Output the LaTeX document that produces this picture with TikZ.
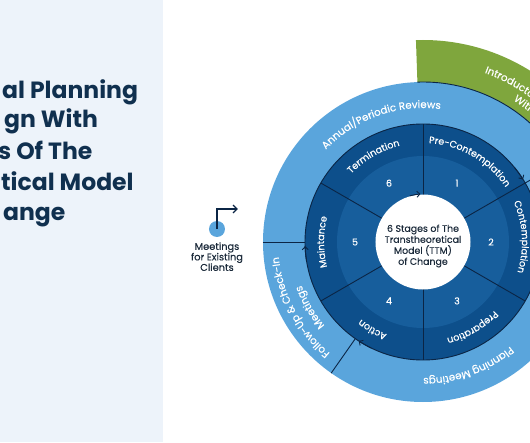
\documentclass[tikz,border=0pt]{standalone}
\usepackage{fontspec}
\setmainfont{Poppins}
\newfontfamily\medfamily{Poppins}[FakeBold=0.35]
\usetikzlibrary{positioning,arrows.meta,decorations.text}

\definecolor{panelbg}{HTML}{EDF3FA}
\definecolor{titlenavy}{HTML}{10304F}
\definecolor{linenavy}{HTML}{0B2545}
\definecolor{outerblue}{HTML}{5AA5DC}
\definecolor{stageblue}{HTML}{0D4F8B}
\definecolor{numblue}{HTML}{175E9C}
\definecolor{introgreen}{HTML}{7FA63D}
\definecolor{coretext}{HTML}{1B2A3A}

\newcommand{\headfont}{\fontsize{23.5}{27}\selectfont\bfseries}
\newcommand{\ringfont}{\medfamily\fontsize{10.3}{12}\selectfont}
\newcommand{\stagefont}{\medfamily\fontsize{9.5}{11}\selectfont}

\begin{document}
\begin{tikzpicture}[x=1pt, y=1pt,
    headline/.style={anchor=base west, inner sep=0pt, text=titlenavy, font=\headfont},
    num/.style={text=white, font=\medfamily\fontsize{9.5}{11}\selectfont},
    sep/.style={draw=linenavy, line width=0.9pt},
    arclabel/.style={decorate, decoration={text along path, text align=center, text color=white, text={#1}}},
    introlabel/.style={decorate, decoration={text along path, text align=left, text color=white, text={#1}}},
    >={Straight Barb[length=3pt, width=6pt]}
]
\clip (-423,-200) rectangle (107,242);

% left panel
\fill[panelbg] (-423,-200) rectangle (-260,242);
\node[headline] (head1) at (-421,143) {al Planning};
\node[headline] (head2) at (-419,114) {gn With};
\node[headline] (head3) at (-425,82) {s Of The};
\node[headline] (head4) at (-422,52) {tical Model};
\node[headline] (head5) at (-420,22) {ange};

% meetings for existing clients
\node[circle, fill=outerblue, minimum size=16pt, inner sep=0pt] (dot) at (-206,13) {};
\coordinate (tip) at (-185,33);
\draw[sep, line width=1.4pt, -{Straight Barb[length=4pt, width=8pt]}] (dot.center) |- (tip);
\node[below=5pt of dot, align=center, inner sep=0pt, text=coretext,
      font=\medfamily\fontsize{9.8}{10.5}\selectfont] (existing) {Meetings\\for Existing\\Clients};

% outer rings
\fill[introgreen] (92:160) arc[start angle=92, end angle=0, radius=160]
    -- (0:202) arc[start angle=0, end angle=92, radius=202] -- cycle;
\fill[outerblue] (0,0) circle (160);
\draw[sep] (92:160) arc[start angle=92, end angle=0, radius=160];
\fill[stageblue] (0,0) circle (118);
\fill[numblue] (0,0) circle (86);
\draw[sep] (0,0) circle (118);

% stage separators
\foreach \a in {90,30,-30,-90,-150,150}
  \draw[sep] (\a:47) -- (\a:118);

% meeting separators
\foreach \a in {180,30,-125} {
  \draw[sep] (\a:160) -- (\a:118);
  \draw[sep, ->] ({\a+9}:118) arc[start angle=\a+9, end angle=\a+2, radius=118];
}

% core
\node[circle, fill=white, minimum size=95pt, inner sep=0pt] (core) at (0,0) {};
\draw[sep, ->] (106:48) arc[start angle=106, end angle=93, radius=48];
\node[align=center, text=coretext, font=\medfamily\fontsize{9.4}{11}\selectfont] (coretxt) at (0,-4)
  {6 Stages of The\\Transtheoretical\\Model (TTM)\\of Change};

% stage numbers
\foreach \a/\n in {60/1, 0/2, -60/3, -120/4, 180/5, 120/6}
  \node[num] (num\n) at (\a:68) {\n};

% stage names
\path[arclabel={|\stagefont|Termination}] (165:99) arc[start angle=165, end angle=75, radius=99];
\path[arclabel={|\stagefont|Pre-Contemplation}] (110:99) arc[start angle=110, end angle=10, radius=99];
\path[arclabel={|\stagefont|Contemplation}] (48:99) arc[start angle=48, end angle=-42, radius=99];
\path[arclabel={|\stagefont|Preparation}] (-15:99) arc[start angle=-15, end angle=-105, radius=99];
\path[arclabel={|\stagefont|Action}] (-75:99) arc[start angle=-75, end angle=-165, radius=99];
\path[arclabel={|\stagefont|Maintance}] (225:99) arc[start angle=225, end angle=135, radius=99];

% meeting names
\path[arclabel={|\ringfont|Annual/Periodic Reviews}] (170:134) arc[start angle=170, end angle=49, radius=134];
\path[arclabel={|\ringfont|Planning Meetings}] (-10:136) arc[start angle=-10, end angle=-130, radius=136];
\path[arclabel={|\ringfont|Follow-Up {\&} Check-In}] (-92:145) arc[start angle=-92, end angle=-212, radius=145];
\path[arclabel={|\ringfont|Meetings}] (-110:129) arc[start angle=-110, end angle=-190, radius=129];
\path[introlabel={|\ringfont|Introductory}] (70:180) arc[start angle=70, end angle=10, radius=180];
\path[introlabel={|\ringfont|With}] (57.5:168) arc[start angle=57.5, end angle=10, radius=168];

\end{tikzpicture}
\end{document}
